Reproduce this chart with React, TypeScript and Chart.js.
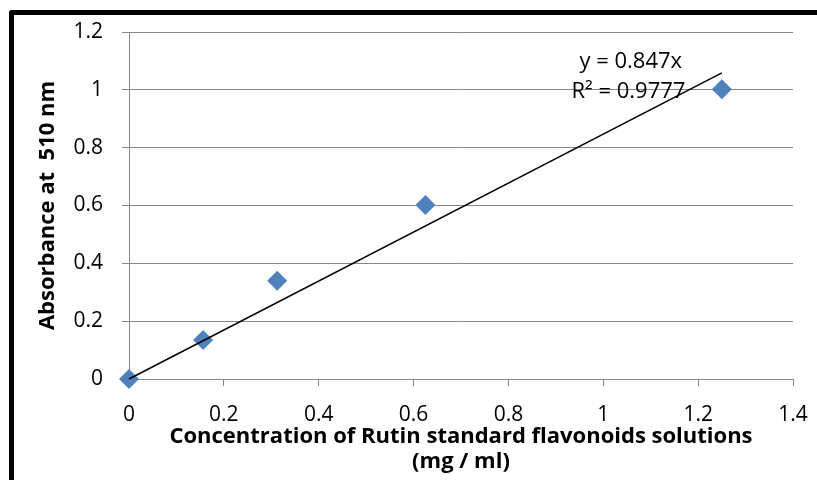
import React, { useEffect, useRef } from "react";
import { Chart, registerables } from "chart.js";

Chart.register(...registerables);

const concentrations = [0, 0.15625, 0.3125, 0.625, 1.25];
const absorbances = [0, 0.135, 0.34, 0.602, 1.002];
const slope = 0.847;
const trendX = [0, 1.25];
const equationLines = ["y = 0.847x", "R² = 0.9777"];
const xTitle = ["Concentration of Rutin standard flavonoids solutions", "(mg / ml)"];
const yTitle = "Absorbance at  510 nm";

const GRID = "#868686";
const FONT = "'Open Sans', sans-serif";

export default function App() {
  const ref = useRef<HTMLCanvasElement | null>(null);
  useEffect(() => {
    if (!ref.current) return;
    const framePlugin = {
      id: "frame",
      beforeDraw(chart: any) {
        const ctx = chart.ctx;
        ctx.save();
        ctx.fillStyle = "#ffffff";
        ctx.fillRect(0, 0, chart.width, chart.height);
        ctx.strokeStyle = "#000000";
        ctx.lineWidth = 5;
        ctx.lineJoin = "round";
        ctx.strokeRect(11.5, 12.5, chart.width + 20, chart.height + 20);
        ctx.restore();
      },
    };
    const eqPlugin = {
      id: "eq",
      afterDatasetsDraw(chart: any) {
        const ctx = chart.ctx;
        const xs = chart.scales.x;
        const ys = chart.scales.y;
        ctx.save();
        ctx.fillStyle = "#000000";
        ctx.font = `22px ${FONT}`;
        ctx.textAlign = "center";
        ctx.textBaseline = "middle";
        ctx.fillText(equationLines[0], xs.getPixelForValue(1.058), ys.getPixelForValue(1.096));
        ctx.fillText(equationLines[1], xs.getPixelForValue(1.053), ys.getPixelForValue(0.993));
        ctx.restore();
      },
    };
    const fmt = (v: any) => String(Number(Number(v).toFixed(1)));
    const chart = new Chart(ref.current, {
      type: "scatter",
      data: {
        datasets: [
          {
            type: "line",
            label: "Trend",
            data: trendX.map((x) => ({ x, y: slope * x })),
            borderColor: "#000000",
            borderWidth: 1.5,
            pointRadius: 0,
            fill: false,
            order: 0,
            clip: false,
          } as any,
          {
            label: "Absorbance",
            data: concentrations.map((x, i) => ({ x, y: absorbances[i] })),
            pointStyle: "rectRot",
            pointRadius: 10,
            pointBorderWidth: 0,
            backgroundColor: "#4F81BD",
            borderColor: "#4F81BD",
            order: 1,
            clip: false,
          } as any,
        ],
      },
      plugins: [framePlugin, eqPlugin],
      options: {
        animation: false,
        responsive: false,
        layout: { padding: { left: 0, right: 24, top: 32, bottom: 0 } },
        plugins: { legend: { display: false }, tooltip: { enabled: false } },
        scales: {
          x: {
            type: "linear",
            min: 0,
            max: 1.4,
            afterFit(scale: any) {
              scale.height = 101;
              scale.paddingLeft = 0;
              scale.paddingRight = 0;
            },
            ticks: {
              stepSize: 0.2,
              color: "#000000",
              font: { family: FONT, size: 21 },
              padding: 16,
              callback: fmt,
              maxRotation: 0,
            },
            grid: { drawOnChartArea: false, drawTicks: true, tickLength: 7, color: GRID },
            border: { display: true, color: GRID },
            title: {
              display: true,
              text: xTitle,
              color: "#000000",
              font: { family: FONT, size: 22, weight: "bold", lineHeight: "25px" },
              padding: { top: 0, bottom: 6 },
            },
          },
          y: {
            type: "linear",
            min: 0,
            max: 1.2,
            afterFit(scale: any) {
              scale.width = 129;
              scale.paddingTop = 0;
              scale.paddingBottom = 0;
            },
            ticks: {
              stepSize: 0.2,
              color: "#000000",
              font: { family: FONT, size: 21 },
              padding: 19,
              callback: fmt,
            },
            grid: { drawTicks: true, tickLength: 7, color: GRID },
            border: { display: true, color: GRID },
            title: {
              display: true,
              text: yTitle,
              color: "#000000",
              font: { family: FONT, size: 22, weight: "bold", lineHeight: "26px" },
              padding: { top: 35, bottom: 0 },
            },
          },
        },
      },
    });
    return () => chart.destroy();
  }, []);
  return (
    <div style={{ position: "fixed", left: 0, top: 0, width: 817, height: 480 }}>
      <canvas ref={ref} width={817} height={480} />
    </div>
  );
}
